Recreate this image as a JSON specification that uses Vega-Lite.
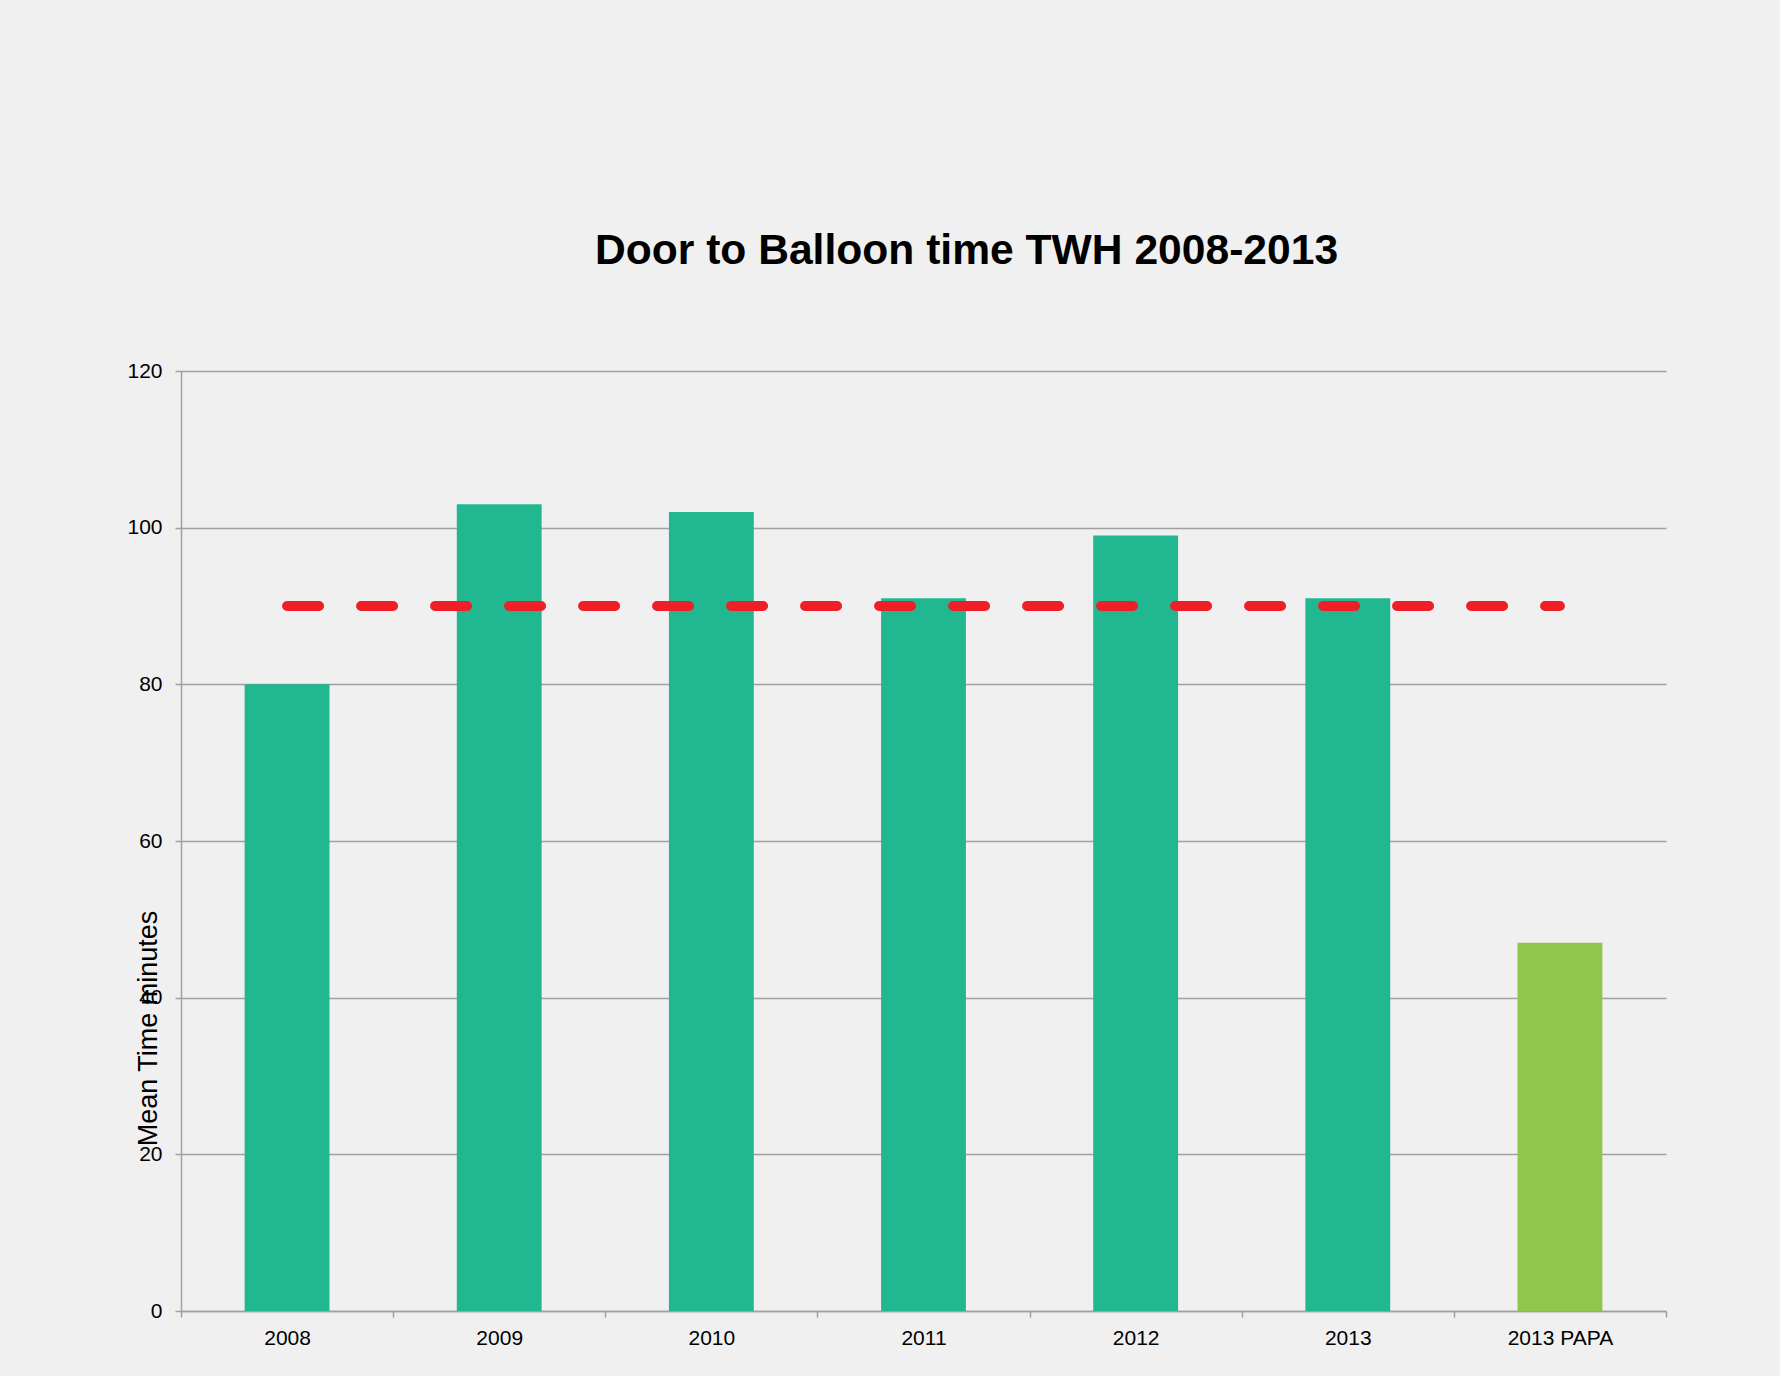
{
  "$schema": "https://vega.github.io/schema/vega-lite/v6.json",
  "autosize": "none",
  "padding": {"left": 181, "top": 371, "right": 114, "bottom": 65},
  "width": 1485,
  "height": 940,
  "background": "#F0F0F0",
  "title": {
    "text": "Door to Balloon time TWH 2008-2013",
    "font": "Liberation Sans",
    "fontSize": 42.6,
    "fontWeight": "bold",
    "color": "#000000",
    "anchor": "middle",
    "baseline": "alphabetic",
    "dx": 43,
    "offset": 53
  },
  "datasets": {
    "bars": [
      {"Year": "2008", "Minutes": 80, "Group": "TWH"},
      {"Year": "2009", "Minutes": 103, "Group": "TWH"},
      {"Year": "2010", "Minutes": 102, "Group": "TWH"},
      {"Year": "2011", "Minutes": 91, "Group": "TWH"},
      {"Year": "2012", "Minutes": 99, "Group": "TWH"},
      {"Year": "2013", "Minutes": 91, "Group": "TWH"},
      {"Year": "2013 PAPA", "Minutes": 47, "Group": "PAPA"}
    ],
    "target": [
      {"Year": "2008", "Target": 90},
      {"Year": "2013 PAPA", "Target": 90}
    ]
  },
  "encoding": {
    "x": {
      "field": "Year",
      "type": "nominal",
      "sort": null,
      "scale": {
        "domain": ["2008", "2009", "2010", "2011", "2012", "2013", "2013 PAPA"],
        "paddingInner": 0,
        "paddingOuter": 0
      },
      "axis": {
        "title": null,
        "labelAngle": 0,
        "labelFont": "Liberation Sans",
        "labelFontSize": 21,
        "labelColor": "#000000",
        "labelPadding": 10,
        "tickBand": "extent",
        "tickSize": 6,
        "tickColor": "#A0A0A0",
        "tickWidth": 1.5,
        "domainColor": "#A0A0A0",
        "domainWidth": 1.5,
        "grid": false
      }
    }
  },
  "layer": [
    {
      "data": {"name": "bars"},
      "mark": {"type": "bar", "width": {"band": 0.4}},
      "encoding": {
        "y": {
          "field": "Minutes",
          "type": "quantitative",
          "scale": {"domain": [0, 120], "nice": false},
          "axis": {
            "title": "Mean Time minutes",
            "titleFont": "Liberation Sans",
            "titleFontSize": 27,
            "titleFontWeight": "normal",
            "titleColor": "#000000",
            "titleAngle": 270,
            "titleAlign": "center",
            "titleBaseline": "alphabetic",
            "titleX": -25,
            "titleY": 657,
            "values": [0, 20, 40, 60, 80, 100, 120],
            "labelFont": "Liberation Sans",
            "labelFontSize": 21,
            "labelColor": "#000000",
            "labelPadding": 13,
            "tickSize": 6,
            "tickColor": "#A0A0A0",
            "tickWidth": 1.5,
            "domainColor": "#A0A0A0",
            "domainWidth": 1.5,
            "grid": true,
            "gridColor": "#A0A0A0",
            "gridWidth": 1.5
          }
        },
        "color": {
          "field": "Group",
          "type": "nominal",
          "scale": {"domain": ["TWH", "PAPA"], "range": ["#21B891", "#8FC74A"]},
          "legend": null
        }
      }
    },
    {
      "data": {"name": "target"},
      "mark": {
        "type": "line",
        "color": "#EE1F26",
        "strokeWidth": 10,
        "strokeCap": "round",
        "strokeDash": [32, 42]
      },
      "encoding": {
        "y": {"field": "Target", "type": "quantitative"}
      }
    }
  ],
  "config": {
    "view": {"stroke": null}
  }
}
